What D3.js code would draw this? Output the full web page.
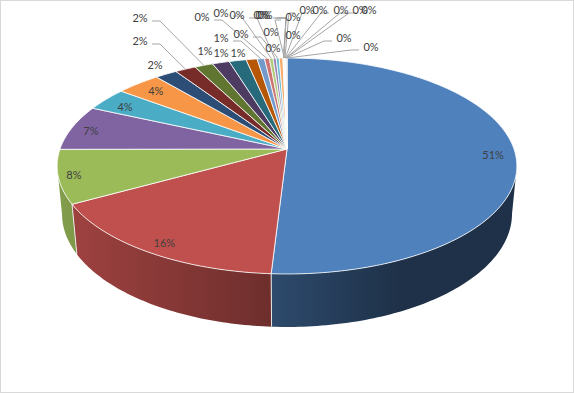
<!DOCTYPE html>
<html>
<head>
<meta charset="utf-8">
<script src="https://cdn.jsdelivr.net/npm/d3@7"></script>
<style>
    html, body { margin: 0; padding: 0; background: #fff; }
    svg { display: block; }
    text { font-family: Lato, "Liberation Sans", sans-serif; font-size: 11px; fill: #404040; }
</style>
</head>
<body>
<div id="chart"></div>
<script>
// Anteile der Segmente in Prozent, im Uhrzeigersinn ab 12 Uhr
const shares = [50.9, 16, 8, 6.8, 3.5, 3.6, 1.8, 1.7, 1.5, 1.4, 1.4, 0.9, 0.6, 0.4, 0.3, 0.25, 0.25, 0.3,
    0.03, 0.02, 0.03, 0.02, 0.03, 0.02, 0.03, 0.03, 0.02, 0.03, 0.02, 0.03, 0.02];

const sliceColors = ["#4f81bd", "#c0504d", "#9bbb59", "#8064a2", "#4bacc6", "#f79646",
    "#2c4d75", "#772c2a", "#5f7530", "#4d3b62", "#276a7c", "#b65708",
    "#729aca", "#cd7371", "#afc97a", "#9982b4", "#6fbdd1", "#f9ab6b",
    "#3a679c", "#9e3b38", "#7f9c40", "#664f87", "#358ca3", "#cd7a33",
    "#95b3d7", "#d99694", "#c3d69b", "#b3a2c7", "#93cddd", "#fac090", "#254061"];

// Feinkorrektur der Beschriftungen innerhalb der Scheibe
const innerNudge = [[1, 0], [1, 0], [-8, -2], [-2, -2], [2, 0], [4, -1]];

// Beschriftungen ausserhalb (ab Segment 7): Position und Laenge des waagerechten Stuecks
const calloutSpots = [[155, 65, 7], [140, 41, 8], [140, 18, 8], [205, 51, 7], [221, 53, 7], [238, 53, 7],
    [221, 38, 8], [202, 17, 8], [221, 13, 8], [237, 15, 8], [241, 34, 8], [271, 32, 6], [273, 48, 6],
    [261, 15, 13], [263, 15, 11], [265, 15, 9], [293, 17, 6], [293, 35, 6], [307, 10, 6], [320, 10, 6],
    [341, 10, 8], [360, 10, 8], [369, 10, 8], [344, 38, 8], [371, 47, 8]];

const width = 574;
const height = 393;

// Perspektive der Scheibe (aus dem Bild gemessen)
const apex = { x: 287, y: 149 };
const persp = { a: 227, b: 105.3, p: 0.1574, q: 0.0211, c: 48.4 };

// Sichtbarer Bereich der Wand: zwischen den beiden Tangenten
const wallFrom = 99 * Math.PI / 180;
const wallTo = 261 * Math.PI / 180;

function project(angle, r, z) {
    const u = r * Math.sin(angle);
    const v = r * Math.cos(angle);
    const den = 1 + persp.q * z + persp.p * v;
    return [apex.x + persp.a * u / den, apex.y + (persp.c * z - persp.b * v) / den];
}

function arcAngles(start, end) {
    const n = Math.max(2, Math.ceil((end - start) / (Math.PI / 180)));
    return d3.range(n + 1).map(i => start + (end - start) * i / n);
}

const svg = d3.select("#chart")
    .append("svg")
    .attr("width", width)
    .attr("height", height);

svg.append("rect")
    .attr("x", 0.5)
    .attr("y", 0.5)
    .attr("width", width - 1)
    .attr("height", height - 1)
    .attr("fill", "#fff")
    .attr("stroke", "#d9d9d9");

const slices = d3.pie().sort(null)(shares);
const line = d3.line();
const percent = d3.format(".0f");

// Helligkeit der Seitenwand haengt von x ab
const wallShade = d3.scaleLinear()
    .domain([60, 272, 400, 520])
    .range([0.84, 0.57, 0.38, 0.38]);

const defs = svg.append("defs");
const frontSlices = slices.filter(d => d.startAngle < wallTo && d.endAngle > wallFrom);

frontSlices.forEach(d => {
    const base = d3.rgb(sliceColors[d.index]);
    const grad = defs.append("linearGradient")
        .attr("id", `wall${d.index}`)
        .attr("gradientUnits", "userSpaceOnUse")
        .attr("x1", 60).attr("x2", 520)
        .attr("y1", 0).attr("y2", 0);
    wallShade.domain().forEach(x => {
        const k = wallShade(x);
        grad.append("stop")
            .attr("offset", (x - 60) / 460)
            .attr("stop-color", d3.rgb(base.r * k, base.g * k, base.b * k).formatHex());
    });
});

// Seitenwaende
const walls = svg.append("g");
frontSlices.forEach(d => {
    const angles = arcAngles(Math.max(d.startAngle, wallFrom), Math.min(d.endAngle, wallTo));
    const outline = angles.map(a => project(a, 1, 0))
        .concat(angles.slice().reverse().map(a => project(a, 1, 1)));
    walls.append("path")
        .attr("d", line(outline) + "Z")
        .attr("fill", `url(#wall${d.index})`);
});

// Fugen zwischen den Waenden
[slices[0].endAngle, slices[1].endAngle].forEach(a => {
    walls.append("path")
        .attr("d", line([project(a, 1, 0), project(a, 1, 1)]))
        .attr("stroke", "#e8e8e8")
        .attr("stroke-width", 1)
        .attr("fill", "none");
});

// Oberseite
svg.append("g").selectAll("path")
    .data(slices)
    .join("path")
    .attr("d", d => line([project(0, 0, 0)].concat(arcAngles(d.startAngle, d.endAngle).map(a => project(a, 1, 0)))) + "Z")
    .attr("fill", d => sliceColors[d.index])
    .attr("stroke", "#fff")
    .attr("stroke-width", 0.8)
    .attr("stroke-linejoin", "round");

// Fuehrungslinien
const outer = slices.slice(innerNudge.length);
svg.append("g").selectAll("path")
    .data(outer)
    .join("path")
    .attr("d", (d, i) => {
        const [x, y, run] = calloutSpots[i];
        const mid = (d.startAngle + d.endAngle) / 2;
        const rim = project(mid, 1, 0);
        if (Math.hypot(rim[0] - x, rim[1] - y) < 28) return null;
        const dir = rim[0] >= x ? 1 : -1;
        const sx = x + dir * 12;
        return line([[sx, y + 3], [sx + dir * run, y + 3], rim]);
    })
    .attr("fill", "none")
    .attr("stroke", "#a6a6a6")
    .attr("stroke-width", 1);

// Beschriftungen
const labels = svg.append("g");
slices.slice(0, innerNudge.length).forEach((d, i) => {
    const p = project((d.startAngle + d.endAngle) / 2, 0.9, 0);
    labels.append("text")
        .attr("x", p[0] + innerNudge[i][0])
        .attr("y", p[1] + 3 + innerNudge[i][1])
        .attr("dy", "0.35em")
        .attr("text-anchor", "middle")
        .text(`${percent(d.value)}%`);
});
outer.forEach((d, i) => {
    labels.append("text")
        .attr("x", calloutSpots[i][0])
        .attr("y", calloutSpots[i][1])
        .attr("dy", "0.35em")
        .attr("text-anchor", "middle")
        .text(`${percent(d.value)}%`);
});
</script>
</body>
</html>
